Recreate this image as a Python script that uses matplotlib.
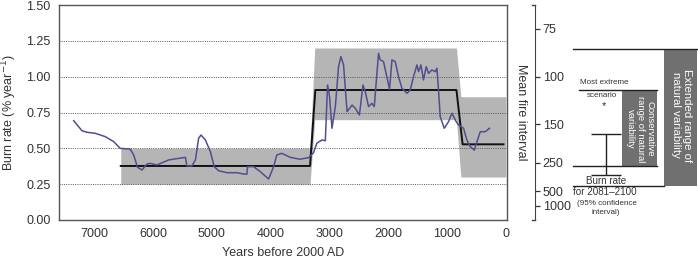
import numpy as np
import matplotlib
matplotlib.use("Agg")
import matplotlib.pyplot as plt

plt.rcParams['font.family'] = ['Liberation Sans', 'DejaVu Sans']

# reconstructed burn rate (% / year) vs years before 2000 AD
burn_years = [7350, 7210, 7125, 6985, 6815, 6670, 6560, 6390, 6330, 6265, 6190, 6105,
              6050, 5935, 5735, 5565, 5450, 5425, 5340, 5280, 5225, 5185, 5110, 5025,
              4960, 4885, 4745, 4575, 4460, 4405, 4393, 4290, 4175, 4035, 3950, 3895,
              3810, 3665, 3500, 3355, 3270, 3215, 3130, 3070, 3032, 2998, 2957, 2900,
              2845, 2805, 2760, 2700, 2615, 2560, 2490, 2430, 2390, 2335, 2278, 2238,
              2165, 2136, 2080, 2012, 1978, 1937, 1881, 1825, 1767, 1682, 1626, 1570,
              1512, 1485, 1444, 1400, 1354, 1315, 1257, 1201, 1172, 1145, 1116, 1048,
              975, 918, 844, 805, 719, 662, 606, 537, 491, 435, 350, 277]
burn_rate = [0.693, 0.623, 0.612, 0.605, 0.582, 0.547, 0.500, 0.495, 0.454, 0.368, 0.349, 0.390,
             0.395, 0.384, 0.419, 0.430, 0.437, 0.377, 0.377, 0.419, 0.570, 0.593, 0.558, 0.477,
             0.372, 0.344, 0.330, 0.330, 0.321, 0.319, 0.372, 0.372, 0.337, 0.286, 0.372, 0.454,
             0.465, 0.437, 0.424, 0.435, 0.470, 0.535, 0.558, 0.553, 0.942, 0.861, 0.640, 0.791,
             1.070, 1.140, 1.082, 0.756, 0.802, 0.779, 0.733, 0.942, 0.895, 0.791, 0.814, 0.791,
             1.163, 1.117, 1.105, 0.977, 0.912, 1.117, 1.105, 1.000, 0.919, 0.884, 0.907, 1.000,
             1.082, 1.035, 1.082, 0.977, 1.070, 1.023, 1.047, 1.035, 1.059, 0.907, 0.721, 0.640,
             0.686, 0.745, 0.686, 0.663, 0.640, 0.558, 0.512, 0.488, 0.546, 0.616, 0.616, 0.640]

# mean burn rate per period (black step line)
mean_years = [6550, 3330, 3240, 840, 735, 40]
mean_rate = [0.377, 0.377, 0.907, 0.907, 0.528, 0.528]

# range of variability per period (grey band)
band_years = [6550, 3330, 3250, 840, 765, 0]
band_upper = [0.50, 0.50, 1.20, 1.20, 0.86, 0.86]
band_lower = [0.25, 0.25, 0.70, 0.70, 0.30, 0.30]

# right panel
mfi_ticks = [75, 100, 150, 250, 500, 1000]
conservative = (0.377, 0.907)
extended = (0.24, 1.193)
future_ci = (0.314, 0.598)
extreme_scenario = 0.826

W, H = 698, 261
fig = plt.figure(figsize=(W / 100, H / 100), dpi=100)

def rect(x0, x1, ytop, ybot):
    return [x0 / W, 1 - ybot / H, (x1 - x0) / W, (ybot - ytop) / H]

txt = '#333333'
frame = '#555555'
grey = '#b5b5b5'
dark = '#707070'

ax = fig.add_axes(rect(59, 507, 5, 220))
ax.fill_between(band_years, band_lower, band_upper, color=grey, lw=0, zorder=1)
for g in [0.25, 0.5, 0.75, 1.0, 1.25]:
    ax.axhline(g, color='#555555', lw=0.7, ls=(0, (1, 1.3)), zorder=2)
ax.plot(mean_years, mean_rate, color='#111111', lw=1.4, zorder=3)
ax.plot(burn_years, burn_rate, color='#4f4f90', lw=1.1, zorder=4)
ax.set_xlim(7600, -20)
ax.set_ylim(0, 1.5)
ax.set_xticks([7000, 6000, 5000, 4000, 3000, 2000, 1000, 0])
ax.set_yticks([0, 0.25, 0.5, 0.75, 1.0, 1.25, 1.5])
ax.set_yticklabels(['0.00', '0.25', '0.50', '0.75', '1.00', '1.25', '1.50'])
ax.tick_params(labelsize=9, colors=txt, length=0, pad=6)
for s in ax.spines.values():
    s.set_color(frame)
    s.set_linewidth(1.0)
ax.set_xlabel('Years before 2000 AD', fontsize=9, color=txt, labelpad=5)
ax.set_ylabel('Burn rate (% year$^{-1}$)', fontsize=9, color=txt, labelpad=5)

# right panel: mean fire interval scale and ranges
ax2 = fig.add_axes(rect(510, 698, 5, 220))
ax2.patch.set_visible(False)
ax2.set_xlim(510, 698)
ax2.set_ylim(0, 1.5)
for k in ['top', 'bottom', 'left']:
    ax2.spines[k].set_visible(False)
ax2.spines['right'].set_position(('data', 535))
ax2.spines['right'].set_color('#444444')
ax2.yaxis.tick_right()
ax2.set_yticks([100 / m for m in mfi_ticks])
ax2.set_yticklabels([str(m) for m in mfi_ticks])
ax2.set_xticks([])
ax2.tick_params(axis='y', labelsize=9, colors=txt, length=3.5, width=0.9, pad=2)
ax2.plot([531.5, 535], [1.5, 1.5], color='#444444', lw=1, clip_on=False)
ax2.plot([531.5, 535], [0, 0], color='#444444', lw=1, clip_on=False)
ax2.text(521.5, 0.75, 'Mean fire interval', rotation=270, fontsize=9, color=txt,
         ha='center', va='center')

line_kw = dict(color='#222222', lw=1.0)
# extended range
ax2.bar(680.5, extended[1] - extended[0], bottom=extended[0], width=32.4, color=dark, lw=0)
ax2.plot([573, 697], [extended[1]] * 2, **line_kw)
ax2.plot([573, 664], [extended[0]] * 2, **line_kw)
ax2.text(681.5, 0.73, 'Extended range of\nnatural variability', rotation=270, fontsize=8.2,
         color='white', ha='center', va='center', linespacing=1.1)
# conservative range
ax2.bar(639.5, conservative[1] - conservative[0], bottom=conservative[0], width=34.4,
        color=dark, lw=0)
ax2.plot([579, 656.7], [conservative[1]] * 2, **line_kw)
ax2.plot([572.7, 656.7], [conservative[0]] * 2, **line_kw)
ax2.text(640, 0.635, 'Conservative\nrange of natural\nvariability', rotation=270, fontsize=6.8,
         color='white', ha='center', va='center', linespacing=1.1)
# projected burn rate 2081-2100
ax2.errorbar(605.7, np.mean(future_ci), yerr=np.diff(future_ci) / 2, fmt='none',
             ecolor='#222222', elinewidth=1.0, capsize=10.5, capthick=1.0)
ax2.text(604.3, extreme_scenario - 0.03, '*', fontsize=8, color=txt, ha='center', va='center')
ax2.text(604.7, 0.937, 'Most extreme', fontsize=5.8, color=txt, ha='center', va='bottom')
ax2.text(602, 0.87, 'scenario', fontsize=5.8, color=txt, ha='center', va='center')
ax2.text(606.3, 0.27, 'Burn rate', fontsize=7.1, color=txt, ha='center', va='center')
ax2.text(605, 0.193, 'for 2081\u20132100', fontsize=7.1, color=txt, ha='center', va='center')
ax2.text(606.7, 0.117, '(95% confidence', fontsize=5.8, color=txt, ha='center', va='center')
ax2.text(606, 0.054, 'interval)', fontsize=5.8, color=txt, ha='center', va='center')

fig.savefig('out.png', dpi=100)
